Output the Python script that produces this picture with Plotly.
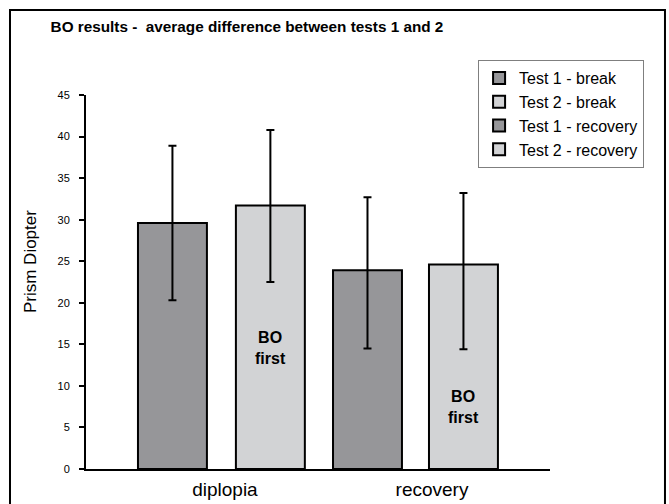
import plotly.graph_objects as go

categories = ["diplopia", "recovery"]
series_names = ["Test 1 - break", "Test 2 - break", "Test 1 - recovery", "Test 2 - recovery"]
series_cat = [0, 0, 1, 1]
means = [29.6, 31.7, 23.9, 24.6]
err_plus = [9.3, 9.1, 8.8, 8.6]
err_minus = [9.3, 9.2, 9.4, 10.2]
colors = ["#969699", "#d2d3d5", "#969699", "#d2d3d5"]
offsets = [-0.420, 0.053, -0.478, -0.0145]
bar_width = 0.333
y_ticks = [0, 5, 10, 15, 20, 25, 30, 35, 40, 45]
note_text = "<b>BO<br>first</b>"
note_series = [1, 3]
note_y = [14.56, 7.46]

FONT = "Liberation Sans, Arial, sans-serif"

fig = go.Figure()
for i in range(4):
    fig.add_trace(go.Bar(
        x=[categories[series_cat[i]]], y=[means[i]], name=series_names[i],
        offset=offsets[i], width=bar_width,
        marker=dict(color=colors[i], line=dict(color="black", width=2)),
        error_y=dict(type="data", array=[err_plus[i]], arrayminus=[err_minus[i]],
                     color="black", thickness=2, width=4),
    ))

for s, yv in zip(note_series, note_y):
    fig.add_annotation(x=series_cat[s] + offsets[s] + bar_width / 2, y=yv,
                       text=note_text, showarrow=False,
                       font=dict(family=FONT, size=16, color="black"),
                       xref="x", yref="y")

# y-axis title placed as text
fig.add_annotation(x=-0.1207, y=0.556, xref="paper", yref="paper",
                   xanchor="center", yanchor="middle",
                   text="Prism Diopter", textangle=-90, showarrow=False,
                   font=dict(family=FONT, size=17, color="black"))

fig.add_shape(type="rect", xref="paper", yref="paper",
              x0=-0.1638, x1=1.2478, y0=-0.12, y1=1.2273,
              line=dict(color="black", width=2), fillcolor="rgba(0,0,0,0)", layer="below")

W, H = 669, 504
fig.update_layout(
    width=W, height=H,
    margin=dict(l=86, r=119, t=95, b=35, autoexpand=False),
    paper_bgcolor="white", plot_bgcolor="white",
    barmode="overlay",
    font=dict(family=FONT, color="black"),
    title=dict(text="<b>BO results -  average difference between tests 1 and 2</b>",
               x=247 / W, xanchor="center", y=1 - 27 / H, yanchor="middle",
               font=dict(size=15.3, color="black")),
    legend=dict(x=0.845, y=1.0936, xanchor="left", yanchor="top",
                bordercolor="#7f7f7f", borderwidth=1, bgcolor="white",
                font=dict(size=16, color="black"), traceorder="normal"),
    xaxis=dict(type="category", categoryorder="array", categoryarray=categories,
               range=[-0.671, 1.570], showline=True, linecolor="black", linewidth=2,
               ticks="", showgrid=False, zeroline=False, ticklabelstandoff=2,
               automargin=False, tickfont=dict(size=19, color="black")),
    yaxis=dict(range=[0, 45], tickvals=y_ticks, showline=True, linecolor="black", linewidth=2,
               ticks="outside", ticklen=5, tickwidth=2, tickcolor="black",
               showgrid=False, zeroline=False, ticklabelstandoff=7, automargin=False,
               tickfont=dict(size=11, color="black")),
)

fig.write_html("out.html", config={"displayModeBar": False},
               post_script="document.body.style.margin='0px';document.body.style.overflow='hidden';")
